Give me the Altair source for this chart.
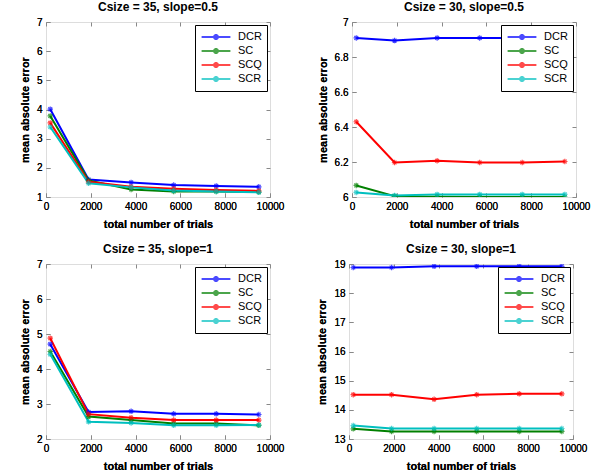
import altair as alt
import pandas as pd

trials = [190, 1900, 3800, 5700, 7600, 9500]
methods = ["DCR", "SC", "SCQ", "SCR"]
colors = ["#0000ff", "#008000", "#ff0000", "#00bfbf"]

# Csize = 35, slope=0.5
p1_dcr = [4.01, 1.60, 1.50, 1.41, 1.38, 1.35]
p1_sc = [3.78, 1.57, 1.26, 1.19, 1.19, 1.17]
p1_scq = [3.54, 1.52, 1.35, 1.28, 1.24, 1.21]
p1_scr = [3.40, 1.47, 1.33, 1.22, 1.19, 1.16]

# Csize = 30, slope=0.5
p2_dcr = [6.909, 6.894, 6.909, 6.909, 6.909, 6.909]
p2_sc = [6.066, 6.005, 6.002, 6.0, 6.0, 6.0]
p2_scq = [6.43, 6.197, 6.207, 6.197, 6.197, 6.203]
p2_scr = [6.026, 6.009, 6.015, 6.015, 6.015, 6.015]

# Csize = 35, slope=1
p3_dcr = [4.71, 2.77, 2.79, 2.72, 2.72, 2.70]
p3_sc = [4.50, 2.64, 2.54, 2.44, 2.44, 2.39]
p3_scq = [4.88, 2.71, 2.61, 2.54, 2.54, 2.54]
p3_scr = [4.42, 2.49, 2.46, 2.39, 2.39, 2.40]

# Csize = 30, slope=1
p4_dcr = [18.88, 18.88, 18.92, 18.92, 18.92, 18.92]
p4_sc = [13.35, 13.26, 13.26, 13.26, 13.26, 13.26]
p4_scq = [14.52, 14.52, 14.36, 14.52, 14.55, 14.55]
p4_scr = [13.46, 13.36, 13.36, 13.36, 13.36, 13.36]

titles = ["Csize = 35, slope=0.5", "Csize = 30, slope=0.5",
          "Csize = 35, slope=1", "Csize = 30, slope=1"]
ydomains = [[1, 7], [6, 7], [2, 7], [13, 19]]
yticks = [[1, 2, 3, 4, 5, 6, 7],
          [6, 6.2, 6.4, 6.6, 6.8, 7],
          [2, 3, 4, 5, 6, 7],
          [13, 14, 15, 16, 17, 18, 19]]
xticks = [0, 2000, 4000, 6000, 8000, 10000]

panels = [
    [p1_dcr, p1_sc, p1_scq, p1_scr],
    [p2_dcr, p2_sc, p2_scq, p2_scr],
    [p3_dcr, p3_sc, p3_scq, p3_scr],
    [p4_dcr, p4_sc, p4_scq, p4_scr],
]

STAR = "M-1,0L1,0M0,-1L0,1M-0.7,-0.7L0.7,0.7M-0.7,0.7L0.7,-0.7"
LEG = ("M-2.4,0L2.4,0M-0.5,0L0.5,0M0,-0.5L0,0.5"
       "M-0.35,-0.35L0.35,0.35M-0.35,0.35L0.35,-0.35")
FONT = "Liberation Sans"


def make_panel(series, title, ydom, yvals):
    rows = []
    for m, vals in zip(methods, series):
        for t, v in zip(trials, vals):
            rows.append({"trials": t, "value": v, "method": m})
    df = pd.DataFrame(rows)
    xs = alt.Scale(domain=[0, 10000], nice=False, zero=False)
    ys = alt.Scale(domain=ydom, nice=False, zero=False)
    color = alt.Color("method:N", sort=methods,
                      scale=alt.Scale(domain=methods, range=colors),
                      legend=alt.Legend(
                          title=None, orient="top-right", offset=3,
                          fillColor="white", strokeColor="black",
                          padding=5, symbolType=LEG, symbolSize=144,
                          symbolOffset=9, rowPadding=0,
                          symbolStrokeWidth=2, symbolFillColor="transparent",
                          labelFontSize=11, labelFont=FONT, labelOffset=15))
    x_main = alt.X("trials:Q", scale=xs, axis=alt.Axis(
        orient="bottom", values=xticks, format="d", tickSize=4, offset=-4,
        domain=False, labelPadding=4, labelFlush=False, labelOverlap=False,
        grid=False, title="total number of trials", titlePadding=7))
    y_main = alt.Y("value:Q", scale=ys, axis=alt.Axis(
        orient="left", values=yvals, format="~g", tickSize=4, offset=-4,
        domain=False, labelPadding=4, labelFlush=False, labelOverlap=False,
        grid=False, title="mean absolute error", titlePadding=6))
    base = alt.Chart(df)
    lines = base.mark_line(strokeWidth=2, clip=True).encode(
        x=x_main, y=y_main, color=color)
    pts = base.mark_point(shape=STAR, filled=False, size=30, strokeWidth=1.2,
                          clip=True).encode(x=x_main, y=y_main, color=color)
    mirror = base.mark_point(opacity=0).encode(
        x=alt.X("trials:Q", scale=xs, axis=alt.Axis(
            orient="top", values=xticks, labels=False, domain=False,
            tickSize=4, offset=-4, grid=False, title=None)),
        y=alt.Y("value:Q", scale=ys, axis=alt.Axis(
            orient="right", values=yvals, labels=False, domain=False,
            tickSize=4, offset=-4, grid=False, title=None)),
    )
    return alt.layer(lines, pts, mirror).properties(
        width=224, height=175,
        title=alt.Title(title, fontSize=12, font=FONT, fontWeight="bold", offset=3),
    )


charts = [make_panel(s, t, d, v) for s, t, d, v in zip(panels, titles, ydomains, yticks)]

row1 = alt.hconcat(charts[0], charts[1], spacing=31).resolve_scale(
    color="independent").resolve_legend(color="independent")
row2 = alt.hconcat(charts[2], charts[3], spacing=31).resolve_scale(
    color="independent").resolve_legend(color="independent")
chart = alt.vconcat(row1, row2, spacing=12).resolve_scale(
    color="independent").resolve_legend(color="independent").properties(
    padding={"left": 18, "top": 0, "right": 5, "bottom": 2}
).configure_view(stroke="black", strokeWidth=1).configure_axis(
    labelFont=FONT, labelFontSize=11, labelColor="black", tickColor="black",
    titleFont=FONT, titleFontSize=12, titleFontWeight="bold", titleColor="black",
).configure(background="white")

chart.save("out.html", embed_options={"renderer": "svg", "actions": False})
